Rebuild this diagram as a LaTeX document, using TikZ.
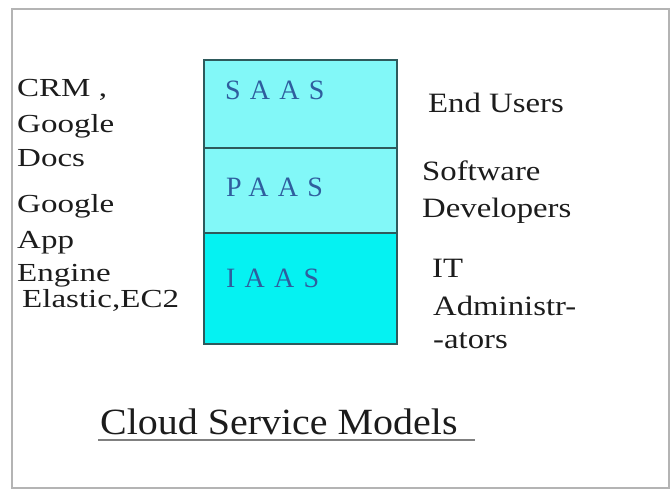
\documentclass[tikz,border=0pt]{standalone}
\usepackage{fontspec}
\setmainfont{Liberation Serif}
\newfontfamily\leftfont[FakeStretch=1.27]{Liberation Serif}
\newfontfamily\rightfont[FakeStretch=1.17]{Liberation Serif}
\newfontfamily\layerfont[LetterSpace=33]{Liberation Serif}
\newfontfamily\titlefont[FakeStretch=1.08]{Liberation Serif}
\definecolor{txt}{HTML}{1C1C1C}
\definecolor{layertxt}{HTML}{2F5E9E}
\definecolor{lightcyan}{HTML}{82F8F8}
\definecolor{deepcyan}{HTML}{05F2F2}
\definecolor{boxedge}{HTML}{2E5A5C}
\definecolor{framegray}{HTML}{B4B4B4}
\tikzset{
  lefttext/.style={anchor=base west, inner sep=0pt, text=txt, font=\leftfont\fontsize{26}{30}\selectfont},
  righttext/.style={anchor=base west, inner sep=0pt, text=txt, font=\rightfont\fontsize{28}{32}\selectfont},
  layertext/.style={anchor=base west, inner sep=0pt, text=layertxt, font=\layerfont\fontsize{28}{32}\selectfont},
  cell/.style={draw=boxedge, line width=1.4pt},
}
\begin{document}
\begin{tikzpicture}[x=1pt,y=-1pt]
\useasboundingbox (0,0) rectangle (670,493);
% outer frame
\draw[framegray, line width=1.3pt] (12,9) rectangle (669,488);
% layered box
\fill[lightcyan] (204,60) rectangle (397,233);
\fill[deepcyan] (204,233) rectangle (397,344);
\draw[cell] (204,148) -- (397,148);
\draw[cell] (204,233) -- (397,233);
\draw[cell] (204,60) rectangle (397,344);
\node[layertext] (saas) at (225,99) {SAAS};
\node[layertext] (paas) at (226,196) {PAAS};
\node[layertext] (iaas) at (226,287) {IAAS};
% left labels
\node[lefttext] (l1) at (17,96) {CRM ,};
\node[lefttext] (l2) at (17,132) {Google};
\node[lefttext] (l3) at (17,166) {Docs};
\node[lefttext] (l4) at (17,212) {Google};
\node[lefttext] (l5) at (17,248) {App};
\node[lefttext] (l6) at (17,281) {Engine};
\node[lefttext] (l7) at (22,307) {Elastic,EC2};
% right labels
\node[righttext] (r1) at (428,112) {End Users};
\node[righttext] (r2) at (422,180) {Software};
\node[righttext] (r3) at (422,217) {Developers};
\node[righttext] (r4) at (432,277) {IT};
\node[righttext] (r5) at (433,315) {Administr-};
\node[righttext] (r6) at (433,348) {-ators};
% title
\node[anchor=base west, inner sep=0pt, text=txt, font=\titlefont\fontsize{37}{42}\selectfont] (title) at (100,434) {Cloud Service Models};
\coordinate (ulA) at (98,440);
\coordinate (ulB) at (475,440);
\draw[gray, line width=1.8pt] (ulA) -- (ulB);
\end{tikzpicture}
\end{document}
